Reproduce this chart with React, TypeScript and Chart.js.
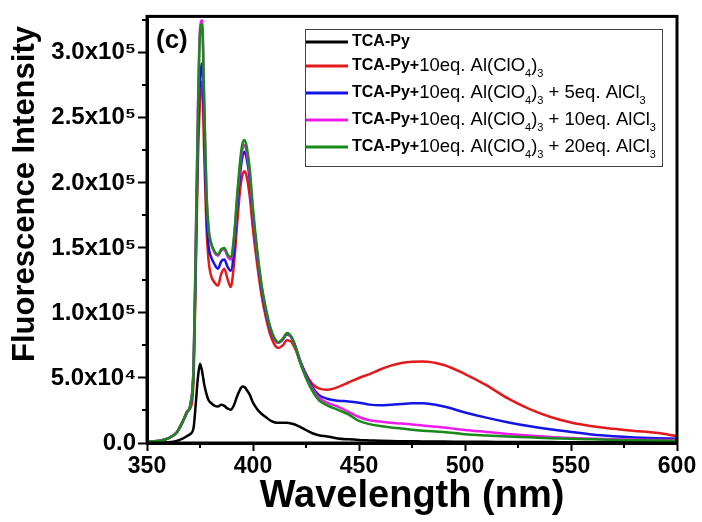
import React, { useEffect, useRef } from "react";
import { Chart, registerables } from "chart.js";

Chart.register(...registerables);

const wavelength = [350, 355, 360, 364, 367, 369, 370.5, 372, 373, 374, 375, 376, 377, 378, 379, 380, 382, 383.5, 385, 386.5, 388, 389.5, 391, 392.5, 394, 395, 396, 397, 398.5, 400, 402, 404, 406, 408, 410, 412, 414, 416, 418, 420, 422, 425, 428, 431, 435, 440, 445, 450, 455, 460, 465, 470, 475, 480, 490, 500, 510, 520, 530, 540, 550, 560, 570, 580, 590, 600];

const tcaPy = [0, 200, 500, 1500, 3500, 5500, 7000, 12000, 30000, 50000, 61000, 55000, 45000, 38000, 33000, 31000, 28500, 28000, 29500, 28500, 26500, 25500, 29000, 36000, 41500, 43500, 43000, 41000, 37000, 31000, 26000, 22500, 20000, 17500, 16000, 15500, 15500, 15500, 15000, 14000, 12500, 10000, 7500, 6000, 5000, 3500, 2800, 2300, 2000, 1700, 1500, 1400, 1300, 1200, 1100, 1000, 900, 800, 700, 700, 600, 600, 500, 500, 500, 400];

const alClO4 = [1000, 1500, 3500, 8000, 17000, 24500, 27000, 50000, 130000, 215000, 262000, 278000, 222000, 168000, 141000, 130000, 123000, 121000, 130000, 134000, 126000, 120000, 137000, 168000, 196000, 206000, 209000, 205000, 189000, 164000, 137000, 114000, 97000, 84000, 76000, 73000, 75000, 79000, 78000, 72000, 63500, 53000, 45500, 42000, 41000, 43000, 46500, 50000, 53000, 56500, 59500, 61500, 62500, 62700, 60000, 53000, 44500, 34500, 26500, 20200, 15800, 12900, 10900, 9300, 7800, 5400];

const alCl5 = [1000, 1500, 3500, 8000, 17000, 24000, 29000, 58000, 140000, 235000, 280000, 292000, 240000, 180000, 152000, 144000, 137000, 134000, 139500, 141000, 135500, 132500, 147000, 180000, 208000, 220000, 224000, 219000, 202000, 174000, 144000, 119000, 101000, 88000, 80000, 77000, 79500, 83500, 81500, 74500, 64500, 52500, 43000, 37000, 34000, 32500, 32000, 31000, 29500, 29000, 29500, 30000, 30500, 30500, 28000, 23500, 19500, 16000, 13000, 10500, 8500, 6500, 5200, 4300, 3700, 3300];

const alCl10 = [1000, 1500, 3500, 8000, 17000, 24000, 30000, 62000, 155000, 255000, 318000, 325000, 262000, 196000, 166000, 155000, 146000, 144000, 148000, 149000, 143500, 141000, 156000, 187000, 214000, 226000, 229000, 224000, 206000, 177000, 146000, 121000, 103000, 89000, 80500, 77000, 79500, 84000, 81500, 74000, 63500, 51000, 41500, 35000, 31000, 28000, 24000, 20000, 17500, 16500, 15500, 15000, 14200, 13500, 12000, 10000, 8500, 7000, 5800, 4600, 3800, 3200, 2800, 2600, 2400, 2300];

const alCl20 = [1000, 1500, 3500, 8000, 17000, 24000, 30000, 60000, 150000, 250000, 315000, 322000, 260000, 195000, 165000, 155000, 147000, 145000, 149000, 150000, 145000, 143000, 158000, 190000, 218000, 230000, 233000, 228000, 210000, 180000, 148000, 122000, 104000, 90000, 81000, 77500, 80000, 84500, 82000, 74000, 63000, 50000, 40000, 33000, 29000, 25500, 22000, 17000, 14500, 13000, 12000, 11200, 10200, 9500, 8500, 6800, 5800, 5000, 4400, 3700, 3200, 2800, 2400, 2100, 1900, 1800];

const seriesNames = [
  "TCA-Py",
  "TCA-Py+10eq. Al(ClO4)3",
  "TCA-Py+10eq. Al(ClO4)3 + 5eq. AlCl3",
  "TCA-Py+10eq. Al(ClO4)3 + 10eq. AlCl3",
  "TCA-Py+10eq. Al(ClO4)3 + 20eq. AlCl3",
];
const seriesColors = ["#000000", "#e31a1c", "#1414e6", "#ec1cec", "#198a19"];
const seriesValues = [tcaPy, alClO4, alCl5, alCl10, alCl20];

const xTickValues = [350, 400, 450, 500, 550, 600];
const yTickLabels: Record<number, string> = {
  0: "0.0",
  50000: "5.0x10\u2074",
  100000: "1.0x10\u2075",
  150000: "1.5x10\u2075",
  200000: "2.0x10\u2075",
  250000: "2.5x10\u2075",
  300000: "3.0x10\u2075",
};
const xMinorTicks = [375, 425, 475, 525, 575];
const yMinorTicks = [25000, 75000, 125000, 175000, 225000, 275000, 325000];
const panelLabel = "(c)";
const xTitle = "Wavelength (nm)";
const yTitle = "Fluorescence Intensity";

const FONT = "'Liberation Sans', Arial, sans-serif";

// split a legend name into [text, kind] segments: kind b=bold, n=normal, s=subscript
function legendSegments(name: string): [string, string][] {
  const segs: [string, string][] = [];
  const m = name.match(/^(TCA-Py\+?)(.*)$/);
  const bold = m ? m[1] : name;
  const rest = m ? m[2] : "";
  segs.push([bold, "b"]);
  let buf = "";
  for (let i = 0; i < rest.length; i++) {
    const ch = rest[i];
    const prev = rest[i - 1];
    if (/[0-9]/.test(ch) && (prev === "O" || prev === ")" || prev === "l")) {
      if (buf) segs.push([buf, "n"]);
      buf = "";
      segs.push([ch, "s"]);
    } else buf += ch;
  }
  if (buf) segs.push([buf, "n"]);
  return segs;
}

const decorPlugin = {
  id: "decor",
  afterDatasetsDraw(chart: any) {
    const ctx = chart.ctx;
    const { left, right, top, bottom } = chart.chartArea;
    const xs = chart.scales.x;
    const ys = chart.scales.y;
    ctx.save();
    // minor ticks
    ctx.strokeStyle = "#000";
    ctx.lineWidth = 2;
    for (const v of xMinorTicks) {
      const px = Math.round(xs.getPixelForValue(v));
      ctx.beginPath();
      ctx.moveTo(px, bottom);
      ctx.lineTo(px, bottom + 5);
      ctx.stroke();
    }
    for (const v of yMinorTicks) {
      const py = Math.round(ys.getPixelForValue(v));
      ctx.beginPath();
      ctx.moveTo(left, py);
      ctx.lineTo(left - 5, py);
      ctx.stroke();
    }
    // frame
    ctx.lineWidth = 3;
    ctx.strokeRect(left, top, right - left, bottom - top);

    // y axis title
    ctx.fillStyle = "#000";
    ctx.save();
    ctx.translate(25, 194);
    ctx.rotate(-Math.PI / 2);
    ctx.font = `bold 31px ${FONT}`;
    ctx.textAlign = "center";
    ctx.textBaseline = "middle";
    ctx.fillText(yTitle, 0, 0);
    ctx.restore();

    // panel label
    ctx.font = `bold 26px ${FONT}`;
    ctx.textBaseline = "alphabetic";
    ctx.textAlign = "left";
    ctx.fillText(panelLabel, left + 9, top + 32);

    // legend
    const lx = 305, ly = 29, lw = 357, lh = 137;
    ctx.fillStyle = "#fff";
    ctx.fillRect(lx, ly, lw, lh);
    ctx.lineWidth = 1;
    ctx.strokeStyle = "#444";
    ctx.strokeRect(lx + 0.5, ly + 0.5, lw, lh);
    const rows = [42, 66, 93, 120, 147];
    seriesNames.forEach((name, i) => {
      const y = rows[i];
      ctx.strokeStyle = seriesColors[i];
      ctx.lineWidth = 3;
      ctx.beginPath();
      ctx.moveTo(lx + 1, y);
      ctx.lineTo(lx + 43, y);
      ctx.stroke();
      let x = lx + 47;
      ctx.fillStyle = "#000";
      for (const [t, k] of legendSegments(name)) {
        ctx.textBaseline = "middle";
        if (k === "b") {
          ctx.font = `bold 16px ${FONT}`;
          ctx.fillText(t, x, y);
        } else if (k === "n") {
          ctx.font = `18.5px ${FONT}`;
          ctx.fillText(t, x, y);
        } else {
          ctx.font = `11px ${FONT}`;
          ctx.fillText(t, x, y + 8);
        }
        x += ctx.measureText(t).width;
      }
    });
    ctx.restore();
  },
};

export default function App() {
  const ref = useRef<HTMLCanvasElement>(null);
  useEffect(() => {
    if (!ref.current) return;
    const order = [5, 4, 3, 2, 1];
    const chart = new Chart(ref.current, {
      type: "line",
      data: {
        datasets: seriesNames.map((name, i) => ({
          label: name,
          data: wavelength.map((w, j) => ({ x: w, y: seriesValues[i][j] })),
          borderColor: seriesColors[i],
          backgroundColor: seriesColors[i],
          borderWidth: 2.5,
          pointRadius: 0,
          cubicInterpolationMode: "monotone" as const,
          order: order[i],
        })),
      },
      options: {
        animation: false,
        responsive: true,
        maintainAspectRatio: false,
        layout: { padding: { left: 0, right: 25, top: 16, bottom: 0 } },
        plugins: { legend: { display: false }, tooltip: { enabled: false } },
        scales: {
          x: {
            type: "linear",
            min: 350,
            max: 600,
            afterBuildTicks: (s: any) => {
              s.ticks = xTickValues.map((v) => ({ value: v }));
            },
            afterFit: (s: any) => {
              s.height = 79;
            },
            grid: { drawOnChartArea: false, drawTicks: true, tickLength: 8, tickWidth: 2, tickColor: "#000" },
            border: { display: true, color: "#000", width: 3 },
            ticks: {
              color: "#000",
              padding: 2,
              maxRotation: 0,
              font: { family: FONT, size: 23, weight: "bold" },
              callback: (v: any) => String(v),
            },
            title: {
              display: true,
              text: xTitle,
              color: "#000",
              font: { family: FONT, size: 38, weight: "bold" },
              padding: { top: 0, bottom: 3 },
            },
          },
          y: {
            type: "linear",
            min: 0,
            max: 328000,
            afterBuildTicks: (s: any) => {
              s.ticks = Object.keys(yTickLabels).map((k) => ({ value: Number(k) }));
            },
            afterFit: (s: any) => {
              s.width = 147;
            },
            grid: { drawOnChartArea: false, drawTicks: true, tickLength: 9, tickWidth: 2, tickColor: "#000" },
            border: { display: true, color: "#000", width: 3 },
            ticks: {
              color: "#000",
              padding: 2,
              font: { family: FONT, size: 24, weight: "bold" },
              callback: (v: any) => yTickLabels[Number(v)] ?? "",
            },
            title: { display: false, text: yTitle },
          },
        },
      },
      plugins: [decorPlugin],
    });
    return () => chart.destroy();
  }, []);
  return (
    <div style={{ position: "fixed", left: 0, top: 0, width: 702, height: 522, background: "#fff" }}>
      <canvas ref={ref} />
    </div>
  );
}
